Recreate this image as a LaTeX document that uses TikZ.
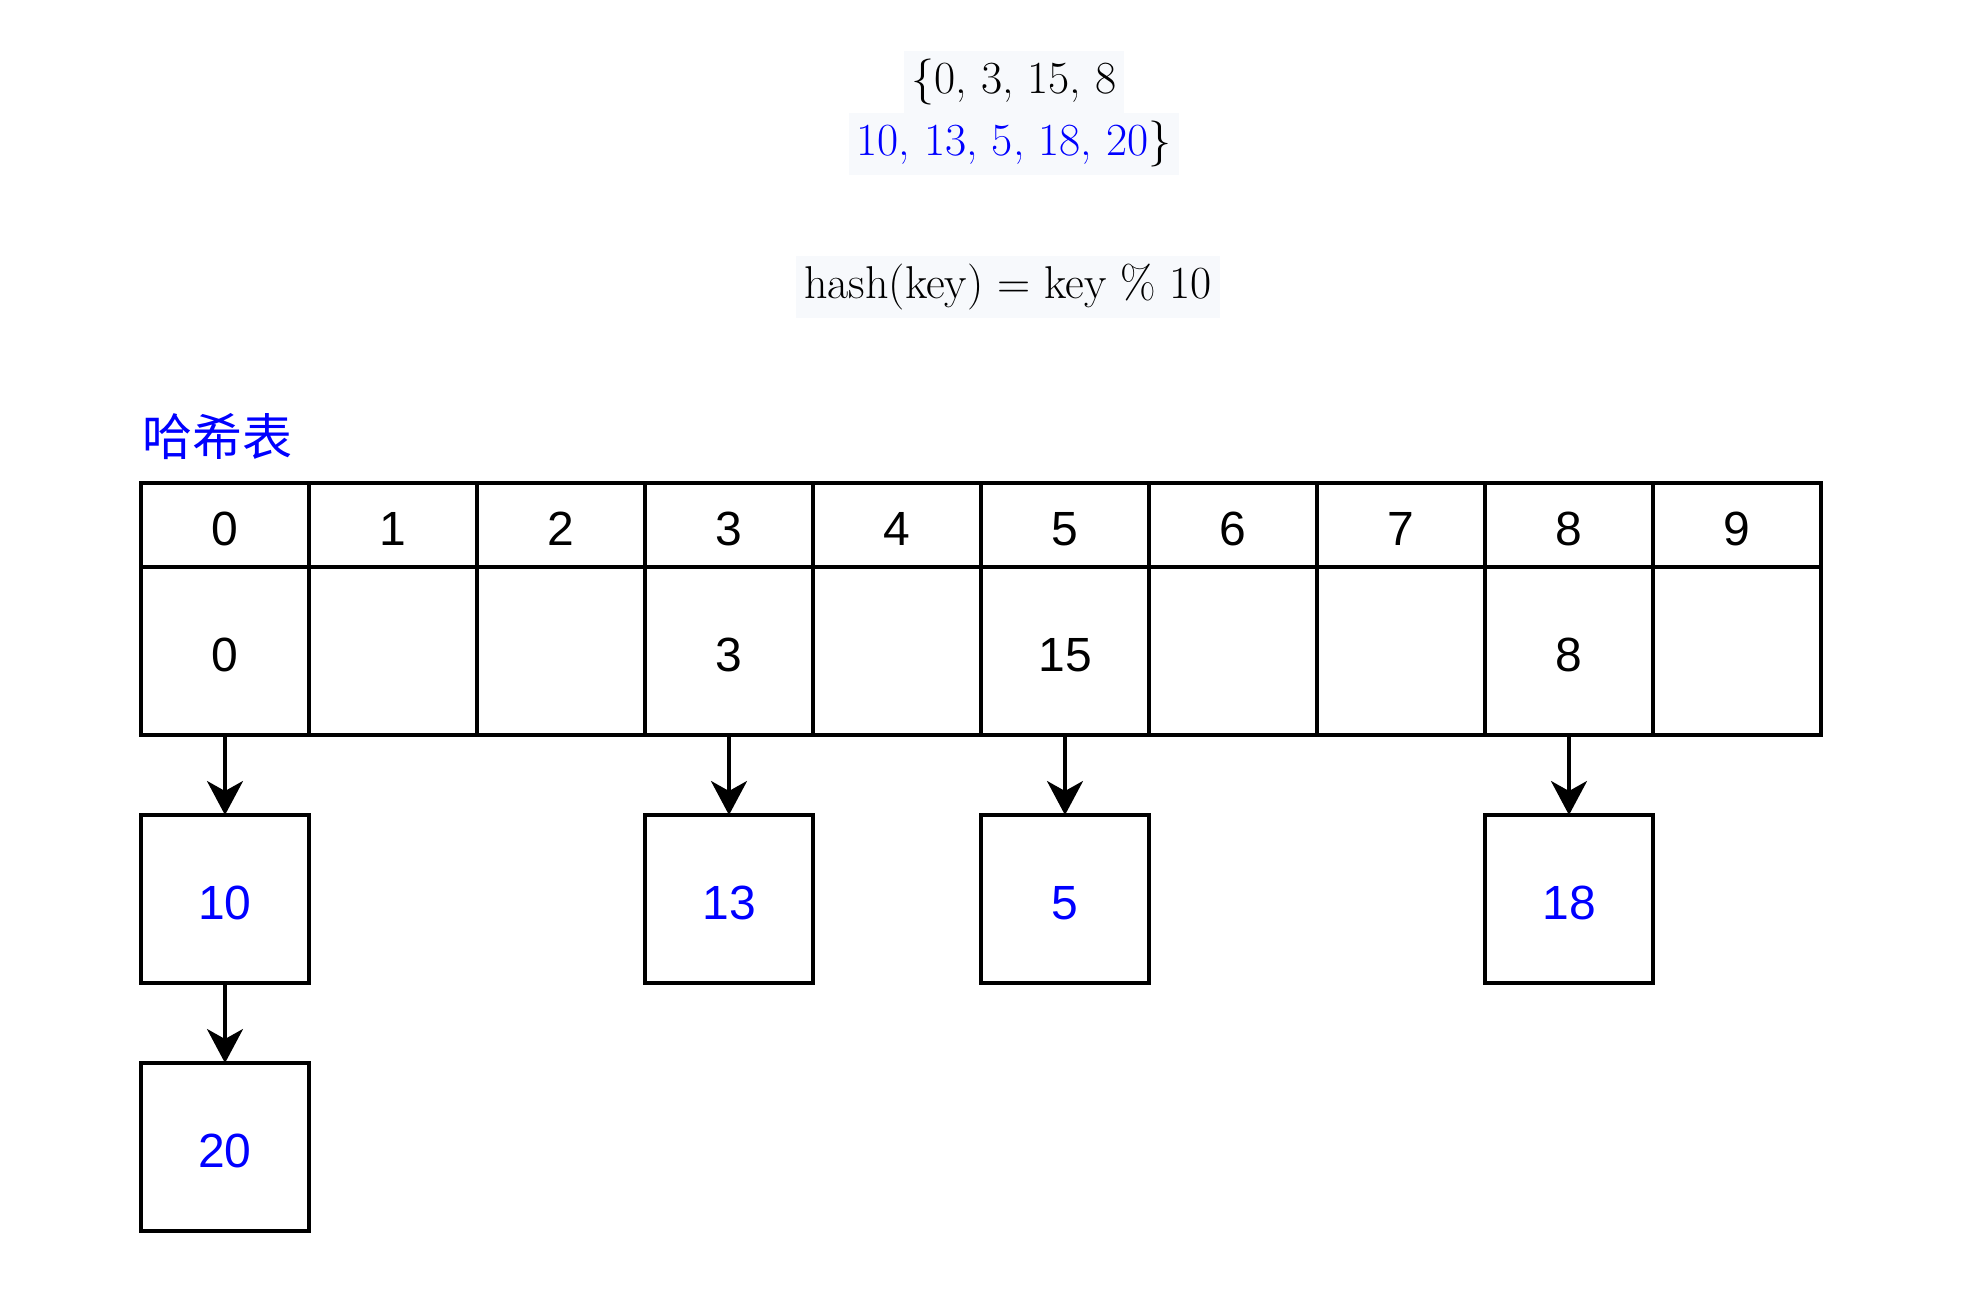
\documentclass[tikz,border=0pt]{standalone}
\usepackage{fontspec}
\setsansfont{Liberation Sans}
\newfontfamily\cjk{Noto Sans CJK SC}
\usepackage{xcolor}
\usepackage{tikz}
\usetikzlibrary{arrows.meta, positioning}
\definecolor{keyblue}{RGB}{0,0,255}
\definecolor{notebg}{HTML}{F7F9FC}

\begin{document}
\begin{tikzpicture}[
    x=0.5pt, y=-0.5pt,
    node distance=40pt,
    cell/.style={rectangle, draw, line width=1.7pt, outer sep=0pt, inner sep=0pt,
                 minimum width=84pt, text height=20pt, text depth=0pt,
                 font=\sffamily\fontsize{24}{28}\selectfont},
    head/.style={cell, minimum height=42pt},
    slot/.style={cell, minimum height=84pt},
    chain/.style={cell, minimum height=84pt, text=keyblue},
    arr/.style={-{Stealth[length=17pt, width=18pt, inset=5pt]}, line width=1.7pt},
    note/.style={fill=notebg, inner sep=4pt, font=\fontsize{23}{28}\selectfont}
]
\useasboundingbox (0,0) rectangle (1970,1314);

% input keys and hash function
\node[note, anchor=base] (keysA) at (1014,93) {\{0, 3, 15, 8};
\node[note, anchor=base] (keysB) at (1014,155) {\textcolor{keyblue}{10, 13, 5, 18, 20}\}};
\node[note, anchor=base] (hashfn) at (1008,298) {hash(key) = key \% 10};

\node[anchor=base west, inner sep=0pt, text=keyblue,
      font=\cjk\fontsize{25}{30}\selectfont] (title) at (142,455) {哈希表};

% table: index row and slot row
\foreach \i/\v in {0/0, 1/{}, 2/{}, 3/3, 4/{}, 5/15, 6/{}, 7/{}, 8/8, 9/{}} {
  \node[head] (h\i) at (225+168*\i,525) {\i};
  \node[slot, below=0pt of h\i] (d\i) {\v};
}

% collision chains
\node[chain, below=of d0] (c10) {10};
\node[chain, below=of c10] (c20) {20};
\node[chain, below=of d3] (c13) {13};
\node[chain, below=of d5] (c5) {5};
\node[chain, below=of d8] (c18) {18};

\draw[arr] (d0.south)--(c10.north); \draw[arr] (c10.south)--(c20.north);
\draw[arr] (d3.south)--(c13.north);
\draw[arr] (d5.south)--(c5.north);
\draw[arr] (d8.south)--(c18.north);
\end{tikzpicture}
\end{document}
